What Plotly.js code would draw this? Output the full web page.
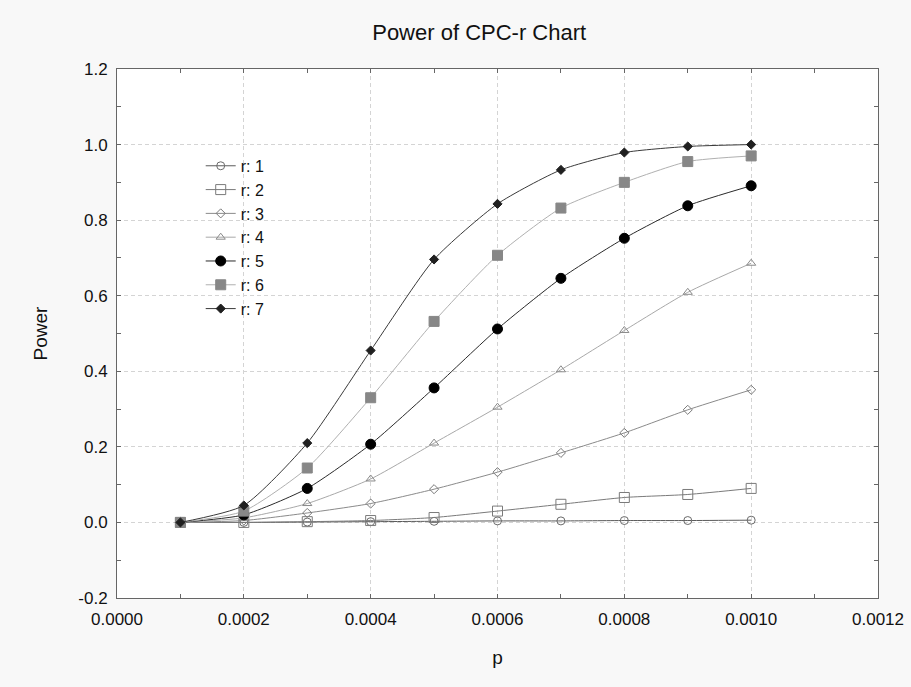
<!DOCTYPE html>
<html>
<head>
<meta charset="utf-8">
<script src="https://cdn.plot.ly/plotly-3.0.1.min.js"></script>
<style>html,body{margin:0;padding:0;background:#f8f8f8;}#chart{width:911px;height:687px;}</style>
</head>
<body>
<div id="chart"></div>
<script>
// Data
const p = [0.0001, 0.0002, 0.0003, 0.0004, 0.0005, 0.0006, 0.0007, 0.0008, 0.0009, 0.0010];
const seriesNames = ["r: 1", "r: 2", "r: 3", "r: 4", "r: 5", "r: 6", "r: 7"];
const r1 = [0.000, 0.000, 0.001, 0.002, 0.003, 0.004, 0.004, 0.005, 0.005, 0.006];
const r2 = [0.000, 0.000, 0.002, 0.005, 0.013, 0.030, 0.048, 0.066, 0.074, 0.090];
const r3 = [0.000, 0.005, 0.025, 0.050, 0.088, 0.133, 0.184, 0.237, 0.298, 0.351];
const r4 = [0.000, 0.012, 0.050, 0.115, 0.210, 0.305, 0.404, 0.508, 0.609, 0.686];
const r5 = [0.000, 0.020, 0.090, 0.207, 0.356, 0.512, 0.646, 0.752, 0.838, 0.891];
const r6 = [0.000, 0.030, 0.144, 0.330, 0.532, 0.707, 0.832, 0.900, 0.955, 0.970];
const r7 = [0.000, 0.045, 0.210, 0.455, 0.696, 0.843, 0.933, 0.979, 0.995, 1.000];
const xTickVals = [0.0000, 0.0002, 0.0004, 0.0006, 0.0008, 0.0010, 0.0012];
const xTickText = ["0.0000", "0.0002", "0.0004", "0.0006", "0.0008", "0.0010", "0.0012"];
const yTickVals = [-0.2, 0.0, 0.2, 0.4, 0.6, 0.8, 1.0, 1.2];
const yTickText = ["-0.2", "0.0", "0.2", "0.4", "0.6", "0.8", "1.0", "1.2"];

const allSeries = [r1, r2, r3, r4, r5, r6, r7];
const styles = [
  {line: "#5a5a5a", symbol: "circle-open", size: 8, mcolor: "#6a6a6a"},
  {line: "#7a7a7a", symbol: "square-open", size: 10, mcolor: "#7a7a7a"},
  {line: "#8a8a8a", symbol: "diamond-open", size: 7, mcolor: "#7a7a7a"},
  {line: "#a8a8a8", symbol: "triangle-up-open", size: 8, mcolor: "#8a8a8a"},
  {line: "#2a2a2a", symbol: "circle", size: 10, mcolor: "#000000"},
  {line: "#b0b0b0", symbol: "square", size: 10, mcolor: "#878787"},
  {line: "#3a3a3a", symbol: "diamond", size: 7, mcolor: "#202020"}
];

const traces = allSeries.map((ys, i) => ({
  type: "scatter",
  mode: "lines+markers",
  x: p,
  y: ys,
  name: seriesNames[i],
  line: {color: styles[i].line, width: 1, shape: "spline", smoothing: 0.6},
  marker: {symbol: styles[i].symbol, size: styles[i].size, color: styles[i].mcolor,
           line: {color: styles[i].mcolor, width: 1}}
}));

const font = "Liberation Sans, Arial, sans-serif";
const layout = {
  width: 911, height: 687,
  paper_bgcolor: "#f8f8f8",
  plot_bgcolor: "#ffffff",
  margin: {l: 117, r: 33, t: 69, b: 89},
  font: {family: font, color: "#111"},
  title: {text: "Power of CPC-r Chart", font: {family: font, size: 22, color: "#111"},
          x: 0.526, xanchor: "center", y: 0.953, yanchor: "middle", xref: "container", yref: "container"},
  xaxis: {
    range: [0, 0.0012], tickvals: xTickVals, ticktext: xTickText,
    showline: true, linecolor: "#666", linewidth: 1, mirror: "ticks",
    ticks: "inside", ticklen: 4, tickcolor: "#666",
    showgrid: true, gridcolor: "#d4d4d4", griddash: "4px,3px", gridwidth: 1,
    zeroline: false,
    tickfont: {size: 17, family: font, color: "#111"},
    ticklabelstandoff: 6,
    minor: {dtick: 0.0001, tick0: 0, ticks: "inside", ticklen: 4, tickcolor: "#666", showgrid: false},
    title: {text: "p", font: {size: 19, family: font, color: "#111"}, standoff: 22},
    automargin: false
  },
  yaxis: {
    range: [-0.2, 1.2], tickvals: yTickVals, ticktext: yTickText,
    showline: true, linecolor: "#666", linewidth: 1, mirror: "ticks",
    ticks: "inside", ticklen: 4, tickcolor: "#666",
    showgrid: true, gridcolor: "#d4d4d4", griddash: "4px,3px", gridwidth: 1,
    zeroline: false,
    tickfont: {size: 17, family: font, color: "#111"},
    ticklabelstandoff: 5,
    minor: {dtick: 0.1, tick0: 0, ticks: "inside", ticklen: 4, tickcolor: "#666", showgrid: false},
    title: {text: "Power", font: {size: 19, family: font, color: "#111"}, standoff: 25},
    automargin: false
  },
  showlegend: true,
  legend: {
    x: 0.110, y: 0.849, xanchor: "left", yanchor: "top",
    bgcolor: "rgba(0,0,0,0)", borderwidth: 0,
    font: {size: 16, family: font, color: "#111"},
    tracegroupgap: 0, itemwidth: 30
  }
};

Plotly.newPlot("chart", traces, layout, {displayModeBar: false, staticPlot: true});
</script>
</body>
</html>
